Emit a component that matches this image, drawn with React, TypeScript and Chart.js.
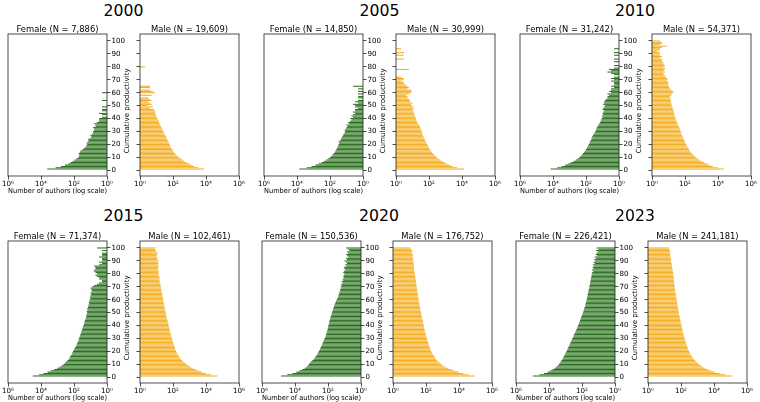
import { useEffect, useRef } from 'react';
import { Chart, registerables } from 'chart.js';

Chart.register(...registerables);

const FONT_FAMILY = '"DejaVu Sans", "Liberation Sans", sans-serif';

// Cumulative productivity levels (one bar per level)
const productivity = [
  1, 2, 3, 4, 5, 6, 7, 8, 9, 10,
  11, 12, 13, 14, 15, 16, 17, 18, 19, 20,
  21, 22, 23, 24, 25, 26, 27, 28, 29, 30,
  31, 32, 33, 34, 35, 36, 37, 38, 39, 40,
  41, 42, 43, 44, 45, 46, 47, 48, 49, 50,
  51, 52, 53, 54, 55, 56, 57, 58, 59, 60,
  61, 62, 63, 64, 65, 66, 67, 68, 69, 70,
  71, 72, 73, 74, 75, 76, 77, 78, 79, 80,
  81, 82, 83, 84, 85, 86, 87, 88, 89, 90,
  91, 92, 93, 94, 95, 96, 97, 98, 99, 100,
];

// Number of authors at each productivity level (0 = no authors)
const female2000 = [
  4200, 1300, 620, 350, 220, 160, 120, 90, 70, 55,
  50, 48, 52, 45, 40, 30, 25, 20, 18, 16,
  17, 15, 13, 14, 10, 9, 10, 8, 7, 7,
  6, 6, 7, 5, 5, 6, 4, 3, 3, 3,
  2, 1, 2, 3, 1, 2, 2, 0, 2, 0,
  0, 0, 0, 2, 0, 0, 0, 0, 0, 2,
  0, 0, 0, 0, 0, 0, 0, 0, 0, 0,
  0, 0, 0, 0, 0, 0, 0, 0, 0, 0,
  0, 0, 0, 0, 0, 0, 0, 0, 0, 0,
  0, 0, 0, 0, 0, 0, 0, 0, 0, 0,
];
const male2000 = [
  8000, 3500, 2000, 1300, 900, 650, 480, 380, 300, 220,
  180, 150, 130, 115, 100, 90, 80, 72, 68, 62,
  58, 52, 48, 44, 42, 38, 34, 30, 28, 26,
  24, 22, 20, 18, 17, 16, 14, 14, 12, 11,
  10, 10, 9, 8, 9, 8, 7, 4, 6, 3,
  5, 4, 3, 5, 4, 3, 0, 5, 0, 8,
  6, 4, 0, 4, 4, 0, 0, 0, 0, 0,
  0, 0, 0, 0, 0, 0, 0, 0, 0, 2,
  0, 0, 0, 0, 0, 0, 0, 0, 0, 0,
  0, 0, 0, 0, 0, 0, 0, 0, 0, 0,
];
const female2005 = [
  7200, 2600, 1300, 750, 480, 320, 230, 170, 130, 100,
  80, 70, 60, 52, 46, 42, 38, 35, 32, 30,
  28, 30, 24, 22, 20, 18, 16, 15, 13, 12,
  13, 11, 10, 9, 10, 7, 8, 6, 5, 6,
  4, 5, 4, 3, 4, 3, 3, 2, 3, 3,
  4, 2, 3, 2, 1, 2, 2, 0, 2, 1,
  2, 0, 2, 0, 4, 0, 0, 0, 0, 0,
  0, 0, 0, 0, 0, 0, 0, 0, 0, 0,
  0, 0, 0, 0, 0, 0, 0, 0, 0, 0,
  0, 0, 0, 0, 0, 0, 0, 0, 0, 0,
];
const male2005 = [
  13500, 5000, 2800, 1800, 1200, 850, 620, 470, 370, 290,
  240, 200, 170, 150, 130, 115, 100, 92, 85, 78,
  70, 64, 60, 55, 50, 46, 43, 40, 38, 36,
  34, 32, 30, 28, 25, 22, 19, 18, 17, 16,
  15, 14, 13, 12, 12, 11, 10, 12, 11, 9,
  8, 10, 7, 7, 6, 5, 5, 4, 6, 8,
  9, 8, 5, 6, 5, 4, 3, 3, 2, 3,
  3, 2, 0, 0, 0, 0, 0, 6, 0, 0,
  0, 0, 0, 0, 0, 3, 0, 0, 3, 0,
  3, 0, 0, 2, 0, 0, 0, 0, 0, 0,
];
const female2010 = [
  14000, 5500, 3000, 1800, 1150, 800, 560, 420, 320, 250,
  205, 170, 150, 130, 115, 100, 90, 82, 75, 68,
  62, 58, 52, 48, 45, 42, 38, 34, 30, 27,
  25, 24, 22, 20, 18, 16, 14, 13, 12, 11,
  10, 11, 9, 10, 9, 8, 10, 9, 8, 7,
  9, 8, 8, 7, 6, 5, 5, 4, 5, 3,
  4, 3, 3, 2, 3, 2, 2, 2, 3, 2,
  3, 2, 1, 2, 3, 5, 3, 4, 2, 0,
  2, 0, 1, 2, 0, 2, 0, 1, 2, 0,
  2, 0, 0, 2, 1, 0, 0, 0, 0, 0,
];
const male2010 = [
  22000, 9500, 4800, 3000, 2000, 1400, 1000, 750, 580, 450,
  370, 310, 260, 225, 195, 175, 160, 145, 130, 118,
  108, 100, 92, 85, 78, 72, 66, 62, 58, 55,
  52, 48, 45, 42, 38, 35, 32, 30, 28, 26,
  25, 24, 23, 22, 21, 20, 19, 18, 17, 16,
  15, 15, 14, 14, 13, 13, 12, 14, 16, 18,
  20, 15, 12, 11, 10, 10, 9, 10, 8, 9,
  8, 7, 6, 5, 5, 6, 5, 6, 6, 5,
  6, 5, 5, 4, 4, 4, 3, 4, 3, 3,
  3, 2, 3, 3, 4, 8, 3, 4, 4, 3,
];
const female2015 = [
  32000, 13000, 7000, 4000, 2500, 1600, 1050, 750, 560, 430,
  350, 290, 245, 210, 190, 170, 150, 135, 125, 115,
  105, 95, 85, 75, 70, 65, 60, 56, 52, 50,
  47, 44, 41, 38, 36, 34, 32, 30, 29, 27,
  25, 24, 23, 22, 20, 19, 18, 18, 17, 16,
  17, 15, 16, 14, 14, 13, 12, 13, 12, 11,
  10, 11, 10, 9, 10, 9, 8, 9, 10, 8,
  6, 4, 3, 2, 2, 3, 3, 4, 5, 4,
  5, 6, 6, 5, 5, 6, 3, 2, 3, 2,
  2, 2, 3, 2, 2, 2, 1, 2, 1, 4,
];
const male2015 = [
  48000, 20000, 9500, 5500, 3500, 2300, 1600, 1150, 850, 650,
  520, 420, 350, 300, 260, 230, 205, 185, 170, 155,
  145, 135, 128, 120, 112, 106, 100, 95, 90, 86,
  82, 78, 74, 70, 67, 64, 62, 60, 57, 55,
  53, 51, 49, 46, 44, 42, 40, 39, 37, 36,
  35, 33, 32, 31, 30, 29, 28, 27, 26, 25,
  25, 24, 23, 22, 21, 21, 20, 19, 19, 18,
  18, 17, 16, 16, 15, 15, 16, 14, 14, 13,
  13, 14, 12, 13, 12, 14, 12, 13, 12, 14,
  11, 12, 10, 11, 10, 12, 10, 9, 8, 9,
];
const female2020 = [
  70000, 29000, 14500, 8200, 5300, 3600, 2600, 2000, 1650, 1450,
  1300, 1050, 880, 750, 640, 560, 490, 440, 400, 360,
  330, 300, 275, 255, 235, 215, 200, 185, 172, 160,
  145, 138, 130, 124, 118, 112, 106, 102, 98, 94,
  90, 88, 84, 80, 76, 72, 68, 64, 60, 57,
  55, 51, 49, 45, 43, 41, 37, 35, 33, 29,
  27, 25, 24, 21, 22, 20, 18, 19, 16, 17,
  15, 16, 13, 15, 12, 13, 11, 12, 11, 10,
  12, 11, 9, 10, 11, 8, 9, 7, 8, 10,
  7, 8, 6, 7, 8, 6, 7, 5, 6, 8,
];
const male2020 = [
  90000, 38000, 18000, 9500, 5500, 3400, 2200, 1500, 1100, 850,
  680, 560, 470, 410, 360, 320, 285, 255, 230, 210,
  195, 180, 168, 158, 148, 140, 132, 125, 118, 112,
  107, 102, 97, 93, 89, 86, 82, 79, 76, 73,
  70, 68, 66, 63, 61, 58, 56, 54, 52, 50,
  48, 46, 45, 43, 42, 41, 40, 38, 37, 36,
  35, 34, 33, 32, 31, 30, 29, 29, 28, 27,
  27, 26, 25, 25, 24, 23, 23, 22, 22, 21,
  20, 19, 20, 19, 18, 19, 18, 17, 17, 18,
  16, 17, 15, 16, 15, 14, 15, 14, 13, 11,
];
const female2023 = [
  95000, 38000, 20000, 12000, 8000, 6000, 4600, 3600, 3000, 2500,
  2200, 1950, 1750, 1560, 1400, 1270, 1150, 1050, 960, 880,
  810, 740, 680, 630, 580, 530, 490, 450, 410, 380,
  350, 320, 300, 275, 255, 235, 215, 200, 185, 172,
  160, 150, 140, 130, 122, 115, 108, 100, 94, 88,
  82, 78, 74, 70, 66, 63, 60, 57, 55, 52,
  50, 48, 46, 45, 43, 42, 40, 39, 37, 36,
  35, 33, 32, 31, 30, 29, 28, 27, 26, 25,
  24, 21, 25, 20, 23, 19, 22, 17, 20, 16,
  18, 14, 17, 12, 15, 13, 11, 14, 10, 13,
];
const male2023 = [
  130000, 48000, 22000, 11000, 6500, 4200, 2900, 2100, 1600, 1250,
  1000, 830, 700, 600, 520, 460, 410, 370, 340, 310,
  285, 265, 248, 232, 218, 205, 194, 184, 175, 166,
  158, 150, 143, 137, 131, 126, 121, 116, 112, 107,
  103, 99, 95, 91, 88, 85, 82, 79, 76, 74,
  72, 69, 67, 65, 63, 61, 59, 58, 56, 55,
  53, 52, 50, 48, 47, 45, 44, 43, 42, 41,
  40, 39, 38, 38, 37, 36, 36, 35, 34, 34,
  33, 32, 31, 30, 29, 28, 28, 27, 26, 25,
  25, 24, 23, 22, 22, 21, 22, 21, 20, 19,
];

const years = ['2000', '2005', '2010', '2015', '2020', '2023'];
const femaleTotals = ['7,886', '14,850', '31,242', '71,374', '150,536', '226,421'];
const maleTotals = ['19,609', '30,999', '54,371', '102,461', '176,752', '241,181'];
const femaleSeries = [female2000, female2005, female2010, female2015, female2020, female2023];
const maleSeries = [male2000, male2005, male2010, male2015, male2020, male2023];

const xTickValues = [1, 100, 10000, 1000000];
const xTickLabels = ['10⁰', '10²', '10⁴', '10⁶'];
const yTickValues = [0, 10, 20, 30, 40, 50, 60, 70, 80, 90, 100];

const GREEN = 'rgb(42, 112, 30)';
const ORANGE = 'rgb(244, 174, 32)';

// Plot-area placement of each year's pair of axes
const PLOT_W = 99;
const PLOT_H = 142;
const panels = [
  { femaleLeft: 8, maleLeft: 140, top: 34, yearX: 123.5, yearTop: 3.4 },
  { femaleLeft: 264, maleLeft: 396, top: 34, yearX: 379.5, yearTop: 3.4 },
  { femaleLeft: 520, maleLeft: 652, top: 34, yearX: 635, yearTop: 3.4 },
  { femaleLeft: 8, maleLeft: 140, top: 241, yearX: 123.5, yearTop: 208 },
  { femaleLeft: 262, maleLeft: 393, top: 241, yearX: 379, yearTop: 208 },
  { femaleLeft: 516, maleLeft: 648, top: 241, yearX: 635, yearTop: 208 },
];

const tickFont = { family: FONT_FAMILY, size: 7.1, lineHeight: 1 };

// Black box around the plotting area
const framePlugin = {
  id: 'frame',
  afterDatasetsDraw(chart: any) {
    const { ctx, chartArea: a } = chart;
    ctx.save();
    ctx.strokeStyle = '#222';
    ctx.lineWidth = 0.8;
    ctx.strokeRect(a.left, a.top, a.right - a.left, a.bottom - a.top);
    ctx.restore();
  },
};

// Shared y-axis label, drawn in the gap between the two halves
const sideLabelPlugin = {
  id: 'sideLabel',
  afterDraw(chart: any) {
    const { ctx, chartArea: a } = chart;
    ctx.save();
    ctx.translate(a.left - 13.3, (a.top + a.bottom) / 2 + 5.8);
    ctx.rotate(-Math.PI / 2);
    ctx.font = `7.1px ${FONT_FAMILY}`;
    ctx.fillStyle = '#000';
    ctx.textAlign = 'center';
    ctx.textBaseline = 'middle';
    ctx.fillText('Cumulative productivity', 0, 0);
    ctx.restore();
  },
};

type Side = 'female' | 'male';

function Subplot({ side, values, title, plotLeft, plotTop }: {
  side: Side; values: number[]; title: string; plotLeft: number; plotTop: number;
}) {
  const ref = useRef<HTMLCanvasElement>(null);
  const female = side === 'female';
  const padL = female ? 14 : 16;
  const axisW = female ? 20 : 4;
  const padR = female ? 0 : 8;
  const padT = 1.6;
  const titleH = 8.4;
  const xAxisH = 19.1;
  const width = padL + axisW + PLOT_W + padR;
  const height = 172;
  const padB = height - padT - titleH - PLOT_H - xAxisH;
  const canvasLeft = plotLeft - (female ? padL : padL + axisW);
  const canvasTop = plotTop - padT - titleH;

  useEffect(() => {
    const canvas = ref.current;
    if (!canvas) return;
    const chart = new Chart(canvas, {
      type: 'bar',
      data: {
        datasets: [{
          data: productivity.map((p, i) => ({ x: values[i] > 0 ? values[i] : null, y: p })),
          backgroundColor: female ? GREEN : ORANGE,
          borderWidth: 0,
          barPercentage: 0.8,
          categoryPercentage: 1,
        }],
      },
      options: {
        indexAxis: 'y',
        animation: false,
        responsive: false,
        devicePixelRatio: 1,
        events: [],
        layout: { autoPadding: false, padding: { left: padL, right: padR, top: padT, bottom: padB } },
        plugins: {
          legend: { display: false },
          tooltip: { enabled: false },
          title: {
            display: true,
            text: title,
            fullSize: false,
            color: '#000',
            font: { family: FONT_FAMILY, size: 8.4, weight: 'normal', lineHeight: 1 },
            padding: 0,
          },
        },
        scales: {
          x: {
            type: 'logarithmic',
            position: 'bottom',
            min: 1,
            max: 1000000,
            reverse: female,
            beginAtZero: false,
            afterBuildTicks: (s: any) => { s.ticks = xTickValues.map((v) => ({ value: v })); },
            afterFit: (s: any) => { s.height = xAxisH; },
            ticks: {
              autoSkip: false,
              maxRotation: 0,
              minRotation: 0,
              padding: 1.5,
              color: '#000',
              font: tickFont,
              callback: (v: any) => {
                const k = xTickValues.indexOf(Number(v));
                return k >= 0 ? xTickLabels[k] : '';
              },
            },
            grid: { drawOnChartArea: false, drawTicks: true, tickLength: 3.5, tickWidth: 0.8, tickColor: '#222', offset: false },
            border: { display: false },
            title: {
              display: female,
              text: 'Number of authors (log scale)',
              color: '#000',
              font: { family: FONT_FAMILY, size: 7.1, lineHeight: 1 },
              padding: 0,
            },
          },
          y: {
            type: 'linear',
            position: female ? 'right' : 'left',
            min: -4.4,
            max: 105.4,
            offset: false,
            afterBuildTicks: (s: any) => { s.ticks = yTickValues.map((v) => ({ value: v })); },
            afterFit: (s: any) => { s.width = axisW; },
            ticks: { display: female, autoSkip: false, padding: 1, color: '#000', font: tickFont },
            grid: { drawOnChartArea: false, drawTicks: true, tickLength: 3.5, tickWidth: 0.8, tickColor: '#222', offset: false },
            border: { display: false },
          },
        },
      } as any,
      plugins: female ? [framePlugin] : [framePlugin, sideLabelPlugin],
    });
    return () => chart.destroy();
  }, [side, values, title]);

  return (
    <canvas
      ref={ref}
      width={width}
      height={height}
      style={{ position: 'absolute', left: canvasLeft, top: canvasTop, width, height }}
    />
  );
}

export default function App() {
  return (
    <div style={{
      position: 'fixed', left: 0, top: 0, width: 760, height: 402,
      overflow: 'hidden', background: '#fff', fontFamily: FONT_FAMILY,
    }}>
      {panels.map((p, i) => (
        <div key={years[i]}>
          <div style={{
            position: 'absolute', left: p.yearX - 40, top: p.yearTop, width: 80,
            textAlign: 'center', fontSize: 15.7, lineHeight: '15.7px', color: '#000',
          }}>
            {years[i]}
          </div>
          <Subplot side="female" values={femaleSeries[i]} title={`Female (N = ${femaleTotals[i]})`}
            plotLeft={p.femaleLeft} plotTop={p.top} />
          <Subplot side="male" values={maleSeries[i]} title={`Male (N = ${maleTotals[i]})`}
            plotLeft={p.maleLeft} plotTop={p.top} />
        </div>
      ))}
    </div>
  );
}
